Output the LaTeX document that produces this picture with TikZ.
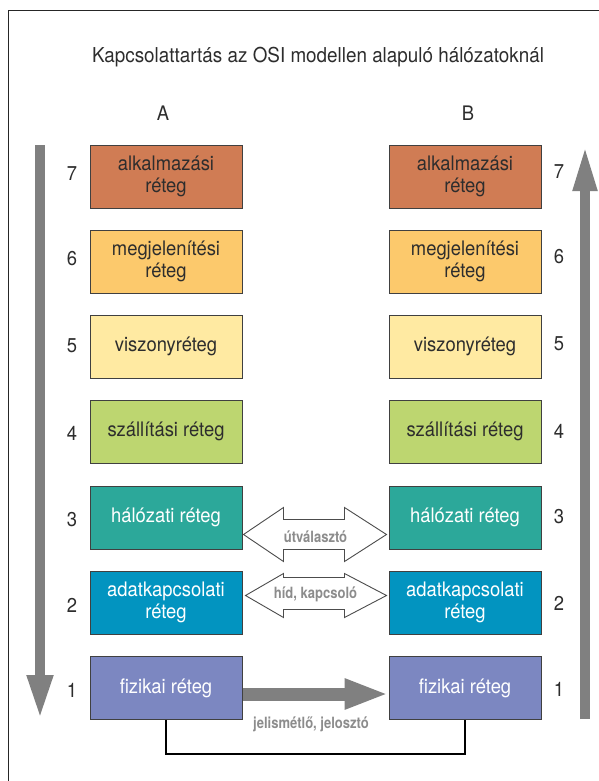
\documentclass[tikz,border=0pt]{standalone}
\usepackage{fontspec}
\setmainfont{TeX Gyre Heros}[FakeStretch=0.92]
\newfontfamily\lblfont{TeX Gyre Heros}[FakeStretch=0.84]
\usetikzlibrary{arrows.meta,calc}
\definecolor{c7}{RGB}{208,124,84}
\definecolor{c6}{RGB}{252,201,108}
\definecolor{c5}{RGB}{255,234,162}
\definecolor{c4}{RGB}{189,214,112}
\definecolor{c3}{RGB}{44,168,154}
\definecolor{c2}{RGB}{2,148,192}
\definecolor{c1}{RGB}{124,135,193}
\definecolor{bigarrow}{RGB}{128,128,128}
\definecolor{lbl}{RGB}{140,140,140}
\definecolor{dtext}{RGB}{45,45,45}
\tikzset{
  layer/.style={draw=black!75, line width=1pt, minimum width=152pt, minimum height=63pt,
    inner sep=0pt, align=center, font=\fontsize{20}{22}\selectfont, text=dtext},
  wlayer/.style={layer, text=white},
  num/.style={font=\fontsize{20}{22}\selectfont, text=dtext},
  hollow/.style={draw=black!70, line width=0.9pt, fill=white},
  alabel/.style={font=\lblfont\bfseries\fontsize{15.5}{17}\selectfont, text=lbl},
}
\begin{document}
\begin{tikzpicture}[x=1pt,y=-1pt]
\useasboundingbox (0,0) rectangle (599,781);
\fill[white] (0,0) rectangle (599,781);
\draw[black!85, line width=1pt] (8,781) -- (8,11) -- (599,11);
\node[font=\fontsize{20.5}{22}\selectfont, text=dtext] (title) at (318,57) {Kapcsolattartás az OSI modellen alapuló hálózatoknál};
\node[num] (hA) at (163,113) {A};
\node[num] (hB) at (468,113) {B};
% left stack
\node[layer, fill=c7] (A7) at (166,176.5) {alkalmazási\\réteg};
\node[layer, fill=c6] (A6) at (166,261.5) {megjelenítési\\réteg};
\node[layer, fill=c5] (A5) at (166,346.5) {viszonyréteg};
\node[layer, fill=c4] (A4) at (166,431.5) {szállítási réteg};
\node[wlayer, fill=c3] (A3) at (166,517.5) {hálózati réteg};
\node[wlayer, fill=c2] (A2) at (166,602.5) {adatkapcsolati\\réteg};
\node[wlayer, fill=c1] (A1) at (166,688) {fizikai réteg};
% right stack
\node[layer, fill=c7] (B7) at (465,176.5) {alkalmazási\\réteg};
\node[layer, fill=c6] (B6) at (465,261.5) {megjelenítési\\réteg};
\node[layer, fill=c5] (B5) at (465,346.5) {viszonyréteg};
\node[layer, fill=c4] (B4) at (465,431.5) {szállítási réteg};
\node[wlayer, fill=c3] (B3) at (465,517.5) {hálózati réteg};
\node[wlayer, fill=c2] (B2) at (465,602.5) {adatkapcsolati\\réteg};
\node[wlayer, fill=c1] (B1) at (465,688) {fizikai réteg};
% numbers
\foreach \n/\y in {7/174,6/259,5/346,4/433,3/520,2/605,1/690}{
  \node[num] (L\n) at (72,\y) {\n};
}
\foreach \n/\y in {7/172,6/257,5/344,4/431,3/517,2/603,1/689}{
  \node[num] (R\n) at (559,\y) {\n};
}
% big vertical arrows
\coordinate (ltop) at (40,145);
\coordinate (lbot) at (40,719);
\coordinate (rtop) at (585,145);
\coordinate (rbot) at (585,719);
\draw[bigarrow, line width=10pt, -{Triangle[length=44pt,width=24pt]}] (ltop) -- (lbot);
\draw[bigarrow, line width=10pt, -{Triangle[length=46pt,width=22pt]}] (rbot) -- (rtop);
% hollow double arrow: network layer
\draw[hollow]
  ($(A3.east)+(1,17)$) -- ($(A3.east)+(41,-10)$) -- ($(A3.east)+(41,2)$)
  -- ($(B3.west)+(-44,2)$) -- ($(B3.west)+(-44,-10)$) -- ($(B3.west)+(-2,17)$)
  -- ($(B3.west)+(-44,44)$) -- ($(B3.west)+(-44,32)$) -- ($(A3.east)+(41,32)$)
  -- ($(A3.east)+(41,44)$) -- cycle;
\node[alabel] (lab3) at ($(A3.east)!0.5!(B3.west)+(0,19)$) {útválasztó};
% hollow double arrow: data link layer
\draw[hollow]
  ($(A2.east)+(3,-7)$) -- ($(A2.east)+(41,-29)$) -- ($(A2.east)+(41,-25)$)
  -- ($(B2.west)+(-44,-25)$) -- ($(B2.west)+(-44,-29)$) -- ($(B2.west)+(-2,-7)$)
  -- ($(B2.west)+(-44,15)$) -- ($(B2.west)+(-44,7)$) -- ($(A2.east)+(41,7)$)
  -- ($(A2.east)+(41,15)$) -- cycle;
\node[alabel] (lab2) at ($(A2.east)!0.5!(B2.west)+(0,-8)$) {híd, kapcsoló};
% physical: gray arrow
\draw[bigarrow, line width=13pt, -{Triangle[length=44pt,width=28pt]}] ($(A1.east)+(0,6)$) -- ($(B1.west)+(0,6)$);
\draw[black, line width=1.6pt] (A1.south) -- ++(0,34) -| (B1.south);
\node[alabel] (lab1) at (311,724) {jelismétlő, jelosztó};
\end{tikzpicture}
\end{document}
